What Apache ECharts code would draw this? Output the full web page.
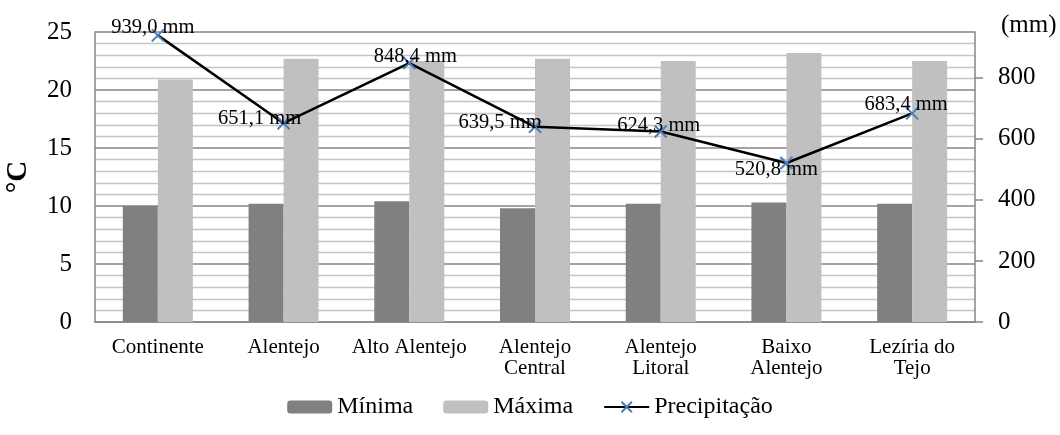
<!DOCTYPE html>
<html>
<head>
<meta charset="utf-8">
<script src="https://cdn.jsdelivr.net/npm/echarts@6/dist/echarts.min.js"></script>
<style>
  html, body { margin: 0; padding: 0; background: #ffffff; }
  #chart { width: 1060px; height: 435px; }
</style>
</head>
<body>
<div id="chart"></div>
<script>
// Regions of Alentejo compared with mainland Portugal
const categories = ['Continente', 'Alentejo', 'Alto Alentejo', 'Alentejo\nCentral', 'Alentejo\nLitoral', 'Baixo\nAlentejo', 'Lezíria do\nTejo'];
// Mean minimum / maximum temperature (°C)
const minima = [10.0, 10.2, 10.4, 9.8, 10.2, 10.3, 10.2];
const maxima = [20.9, 22.7, 22.5, 22.7, 22.5, 23.2, 22.5];
// Annual precipitation (mm)
const precipitacao = [939.0, 651.1, 848.4, 639.5, 624.3, 520.8, 683.4];
// Label nudges for the precipitation values [dx, dy]
const labelOffsets = [[-5, -8], [-24, -5], [6, -6], [-35, -4], [-2, -6], [-10, 7], [-6, -9]];

const serif = '"Liberation Serif", "DejaVu Serif", serif';
const chart = echarts.init(document.getElementById('chart'));

const fmtMm = v => v.toFixed(1).replace('.', ',') + ' mm';

chart.setOption({
  animation: false,
  textStyle: { fontFamily: serif, color: '#000' },
  grid: { left: 95, right: 85, top: 32, bottom: 113, containLabel: false, outerBoundsMode: 'none' },
  legend: {
    bottom: 11,
    left: 'center',
    itemGap: 30,
    itemWidth: 45,
    itemHeight: 13,
    textStyle: { fontFamily: serif, fontSize: 24, color: '#000' },
    data: [
      { name: 'Mínima' },
      { name: 'Máxima' },
      { name: 'Precipitação' }
    ]
  },
  xAxis: {
    type: 'category',
    data: categories,
    axisLine: { lineStyle: { color: '#868686', width: 1.5 } },
    axisTick: { show: false },
    axisLabel: { fontFamily: serif, fontSize: 21, color: '#000', margin: 15, lineHeight: 21, interval: 0 }
  },
  yAxis: [
    {
      type: 'value',
      min: 0, max: 25, interval: 5,
      name: '°C',
      nameLocation: 'middle',
      nameRotate: 90,
      nameGap: 62,
      nameTextStyle: { fontFamily: serif, fontSize: 29, fontWeight: 'bold', color: '#000' },
      axisLine: { show: true, lineStyle: { color: '#868686', width: 1.5 } },
      axisTick: { show: false },
      axisLabel: { fontFamily: serif, fontSize: 25, color: '#000', margin: 23 },
      splitLine: { show: true, lineStyle: { color: '#868686', width: 1.5 } },
      minorTick: { show: false, splitNumber: 5 },
      minorSplitLine: { show: true, lineStyle: { color: '#c4c4c4', width: 1.3 } }
    },
    {
      type: 'value',
      min: 0, max: 950, interval: 200,
      name: '(mm)',
      nameLocation: 'end',
      nameGap: 7,
      nameTextStyle: { fontFamily: serif, fontSize: 25, color: '#000', align: 'left', verticalAlign: 'middle', padding: [0, 0, 0, 26] },
      axisLine: { show: true, lineStyle: { color: '#868686', width: 1.5 } },
      axisTick: { show: true, inside: false, length: 8, lineStyle: { color: '#868686', width: 1.5 } },
      axisLabel: { fontFamily: serif, fontSize: 25, color: '#000', margin: 23, showMaxLabel: false },
      splitLine: { show: false }
    }
  ],
  series: [
    {
      name: 'Mínima',
      type: 'bar',
      yAxisIndex: 0,
      data: minima,
      barWidth: 35,
      barGap: '0%',
      itemStyle: { color: '#808080' }
    },
    {
      name: 'Máxima',
      type: 'bar',
      yAxisIndex: 0,
      data: maxima,
      barWidth: 35,
      barGap: '0%',
      itemStyle: { color: '#c0c0c0' }
    },
    {
      name: 'Precipitação',
      type: 'line',
      yAxisIndex: 1,
      z: 5,
      data: precipitacao.map((v, i) => ({
        value: v,
        label: { offset: labelOffsets[i] }
      })),
      symbol: 'path://M0,0L10,10M10,0L0,10',
      symbolSize: 12,
      showAllSymbol: true,
      lineStyle: { color: '#000', width: 2.5 },
      itemStyle: { color: '#4a7ebb', borderColor: '#4a7ebb', borderWidth: 2 },
      label: {
        show: true,
        position: 'inside',
        fontFamily: serif,
        fontSize: 20.5,
        color: '#000',
        formatter: p => fmtMm(p.value)
      }
    }
  ]
});
</script>
</body>
</html>
